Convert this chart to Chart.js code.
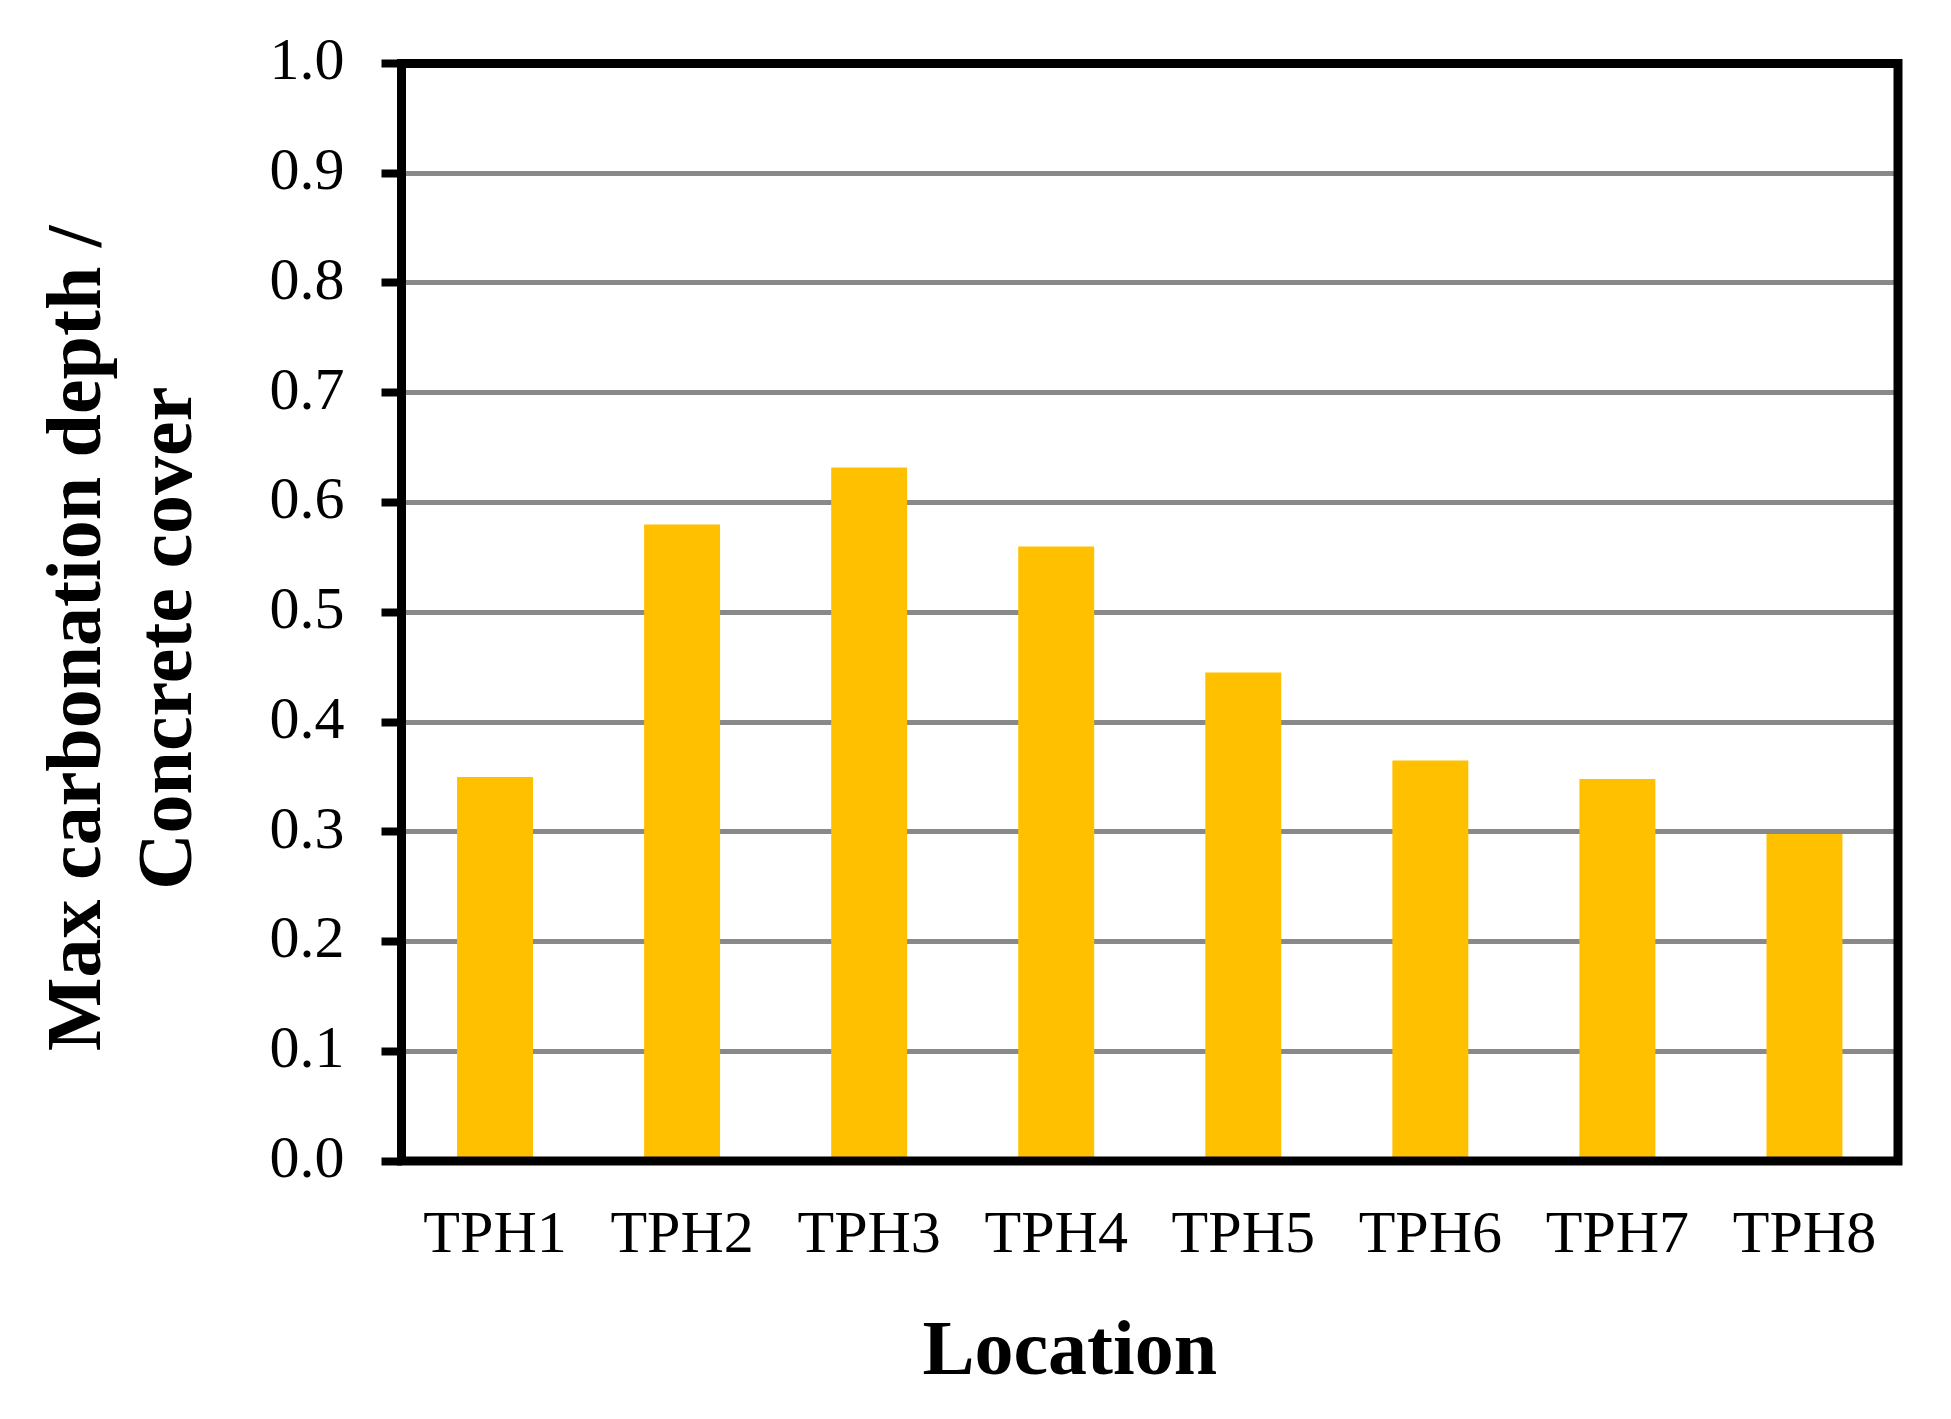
<!DOCTYPE html>
<html>
<head>
<meta charset="utf-8">
<script src="https://cdn.jsdelivr.net/npm/chart.js@4.4.1/dist/chart.umd.min.js"></script>
<style>
  html, body { margin: 0; padding: 0; background: #fff; }
  #wrap { width: 1951px; height: 1419px; position: relative; }
</style>
</head>
<body>
<div id="wrap"><canvas id="carbChart"></canvas></div>
<script>
const locations = ["TPH1", "TPH2", "TPH3", "TPH4", "TPH5", "TPH6", "TPH7", "TPH8"];
const depthRatio = [0.35, 0.58, 0.632, 0.56, 0.445, 0.365, 0.348, 0.298];
const yMin = 0;
const yMax = 1;
const yStep = 0.1;

const serif = "'Times New Roman', 'Liberation Serif', serif";

// black box round the plot area
const framePlugin = {
    id: "frame",
    afterDatasetsDraw(chart) {
        const { ctx, chartArea: a } = chart;
        ctx.save();
        ctx.strokeStyle = "#000";
        ctx.lineWidth = 9;
        ctx.strokeRect(a.left, a.top, a.right - a.left, a.bottom - a.top);
        ctx.restore();
    }
};

// axis titles in the original sit a little off centre
const titleShift = {
    id: "titleShift",
    afterLayout(chart) {
        const xt = chart.scales.xt;
        xt.left -= 80;
        xt.right -= 80;
        const yt = chart.scales.yt;
        yt.top += 26;
        yt.bottom += 26;
    }
};

const noPad = (s) => {
    s.paddingTop = 0;
    s.paddingBottom = 0;
};

new Chart(document.getElementById("carbChart"), {
    type: "bar",
    data: {
        labels: locations,
        datasets: [{
            data: depthRatio,
            backgroundColor: "#FFC000",
            borderWidth: 0,
            categoryPercentage: 1,
            barPercentage: 0.406,
            xAxisID: "x",
            yAxisID: "y"
        }]
    },
    options: {
        responsive: true,
        maintainAspectRatio: false,
        animation: false,
        layout: { padding: { top: 63.5, right: 53, bottom: 0, left: 0 } },
        plugins: {
            legend: { display: false },
            tooltip: { enabled: false }
        },
        scales: {
            x: {
                type: "category",
                position: "bottom",
                weight: 0,
                grid: { display: false, drawTicks: false },
                border: { display: false },
                ticks: {
                    color: "#000",
                    padding: 39,
                    font: { family: serif, size: 60 }
                },
                afterFit: (s) => { s.height = 120; }
            },
            xt: {
                type: "category",
                position: "bottom",
                weight: 1,
                labels: locations,
                grid: { display: false, drawTicks: false },
                border: { display: false },
                ticks: { display: false },
                title: {
                    display: true,
                    text: "Location",
                    color: "#000",
                    padding: { top: 0, bottom: 18.5 },
                    font: { family: serif, size: 78, weight: "bold", lineHeight: 1.2 }
                },
                afterFit: (s) => { s.height = 138; }
            },
            y: {
                type: "linear",
                position: "left",
                weight: 0,
                min: yMin,
                max: yMax,
                grid: {
                    color: "#898989",
                    lineWidth: 5,
                    tickColor: "#000",
                    tickWidth: 8,
                    tickLength: 20
                },
                border: { display: false },
                ticks: {
                    stepSize: yStep,
                    color: "#000",
                    padding: 37,
                    font: { family: serif, size: 60 },
                    callback: (v) => Number(v).toFixed(1)
                },
                afterFit: (s) => {
                    s.width = 181.5;
                    noPad(s);
                }
            },
            yt: {
                type: "linear",
                position: "left",
                weight: 1,
                min: yMin,
                max: yMax,
                grid: { display: false, drawTicks: false },
                border: { display: false },
                ticks: { display: false },
                title: {
                    display: true,
                    text: ["Max carbonation depth /", "Concrete cover"],
                    color: "#000",
                    padding: { top: 34.4, bottom: 0 },
                    font: { family: serif, size: 78, weight: "bold", lineHeight: 1.17 }
                },
                afterFit: (s) => {
                    s.width = 220;
                    noPad(s);
                }
            }
        }
    },
    plugins: [framePlugin, titleShift]
});
</script>
</body>
</html>
